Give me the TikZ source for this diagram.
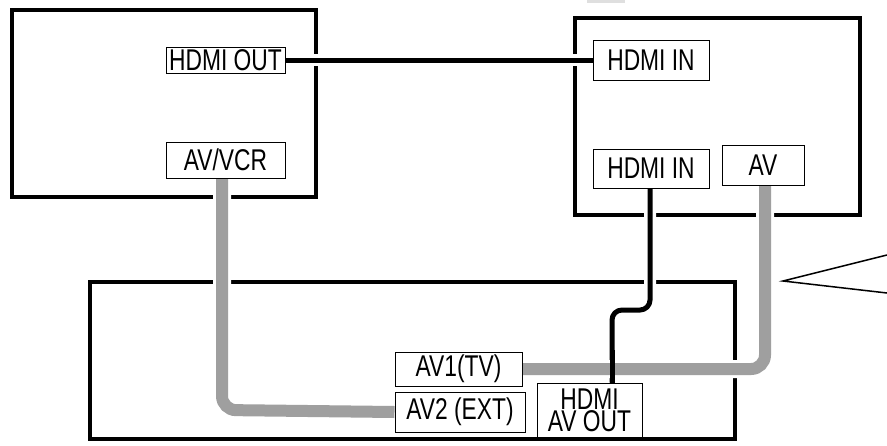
\documentclass[tikz,border=0pt]{standalone}
\usepackage{fontspec}
\setmainfont{Liberation Sans}[FakeStretch=0.76]
\usetikzlibrary{backgrounds}
\begin{document}
\begin{tikzpicture}[x=1pt,y=-1pt,
  dev/.style={draw,line width=4pt},
  port/.style={draw,line width=1pt,fill=white,inner sep=0pt,font=\fontsize{30}{24}\selectfont,align=center},
  hdmi/.style={line width=5pt,black,preaction={draw=white,line width=12pt}},
  av/.style={line width=12pt,gray!75,preaction={draw=white,line width=18pt}}]
\useasboundingbox (0,0) rectangle (887,445);
\node[port,minimum width=119,minimum height=26] (hout) at (225.5,60) {HDMI OUT};
\node[port,minimum width=119,minimum height=36] (avvcr) at (225.5,160) {AV/VCR};
\node[port,minimum width=116,minimum height=40] (hin1) at (651,60) {HDMI IN};
\node[port,minimum width=116,minimum height=39] (hin2) at (651,168.5) {HDMI IN};
\node[port,minimum width=82,minimum height=40] (av) at (763,165) {AV};
\node[port,minimum width=127,minimum height=34] (av1) at (458.5,369) {AV1(TV)};
\node[port,minimum width=130,minimum height=40] (av2) at (460,412) {AV2 (EXT)};
\node[port,minimum width=105,minimum height=54,font=\fontsize{30}{19}\selectfont] (hout2) at (589.5,410) {HDMI\\AV OUT};
\begin{pgfonlayer}{background}
\fill[gray!25] (587,0) rectangle (625,3);
\draw[dev] (12,10) rectangle (316,197);
\draw[dev] (575,18) rectangle (860,215);
\draw[dev] (90,282) rectangle (735,439);
\draw[line width=1.5pt] (887,255) -- (783,281) -- (887,293);
\draw[hdmi] (hout.east) -- (hin1.west);
\draw[hdmi,rounded corners=10pt] (hin2.south -| 650,0) -- (650,310) -- (612,310) -- (hout2.north -| 612,0);
\draw[av,rounded corners=14pt] (avvcr.south -| 222,0) -- (222,410) -- (av2.west);
\draw[av,rounded corners=14pt] (av.south -| 765,0) -- (765,369) -- (av1.east);
\draw[line width=5pt] (612,350) -- (612,384);
\end{pgfonlayer}
\end{tikzpicture}
\end{document}
